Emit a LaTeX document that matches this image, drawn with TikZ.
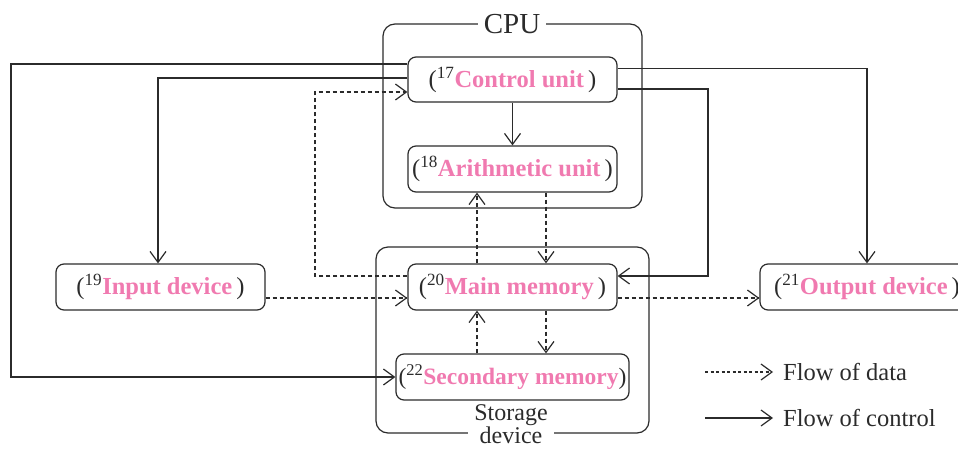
\documentclass[tikz,border=0pt]{standalone}
\usepackage{fontspec}
\setmainfont{Liberation Serif}
\usetikzlibrary{arrows.meta}
\definecolor{pk}{HTML}{F07AB0}
\definecolor{ln}{HTML}{2B2B2B}
\tikzset{
  unitbox/.style={draw=ln, line width=1.2pt, rounded corners=8pt, minimum height=46pt, inner sep=0pt, font=\fontsize{24.5}{28}\selectfont, text=ln},
  groupbox/.style={draw=ln, line width=1.2pt, rounded corners=12pt},
  ctl/.style={draw=ln, line width=1.3pt, -{Straight Barb[length=11pt,width=16pt,line width=1.2pt]}},
  dat/.style={ctl, dash pattern=on 4pt off 3pt},
  legtext/.style={anchor=west, inner sep=0pt, font=\fontsize{24.5}{28}\selectfont, text=ln}
}
\newcommand{\lbl}[2]{(\textsuperscript{#1}\textbf{\color{pk}#2}\,)}
\begin{document}
\begin{tikzpicture}[x=1pt,y=-1pt]
\useasboundingbox (0,0) rectangle (958,450);
% group boxes
\draw[groupbox] (383,24) rectangle (642,208);
\node[fill=white, inner xsep=6pt, inner ysep=0pt, anchor=base, font=\fontsize{29}{32}\selectfont, text=ln] (cpu) at (512,33) {CPU};
\draw[groupbox] (376,247) rectangle (649,433);
\node[fill=white, inner xsep=6pt, inner ysep=1pt, align=center, font=\fontsize{24}{23}\selectfont, text=ln] (stor) at (511,424) {Storage\\device};
% unit nodes
\node[unitbox, minimum width=209pt, minimum height=45pt] (ctrl) at (512.5,79.5) {\lbl{17}{Control unit}};
\node[unitbox, minimum width=209pt] (arith) at (512.5,169) {\lbl{18}{Arithmetic unit}};
\node[unitbox, minimum width=209pt] (main) at (512.5,287) {\lbl{20}{Main memory}};
\node[unitbox, minimum width=233pt, font=\fontsize{23.5}{28}\selectfont] (sec) at (512.5,377) {(\textsuperscript{22}\textbf{\color{pk}Secondary memory})};
\node[unitbox, minimum width=209pt] (inp) at (160.5,287) {\lbl{19}{Input device}};
\node[unitbox, minimum width=214pt] (out) at (867,287) {\lbl{21}{Output device}};
% bend points
\coordinate (b1) at (11,64);
\coordinate (b3) at (315,276);
\coordinate (b11) at (708,89);
% control flow
\draw[ctl] ([yshift=15.5pt]ctrl.west) -- (b1) |- (sec.west);
\draw[ctl] ([yshift=1.5pt]ctrl.west) -| ([xshift=-2.5pt]inp.north);
\draw[ctl] (ctrl.south) -- (arith.north);
\draw[ctl] ([yshift=11pt]ctrl.east) -| (out.north);
\draw[ctl] ([yshift=-9.5pt]ctrl.east) -- (b11) |- ([yshift=11pt]main.east);
% data flow
\draw[dat] ([yshift=11pt]main.west) -- (b3) |- ([yshift=-12.5pt]ctrl.west);
\draw[dat] ([yshift=-11pt]inp.east) -- ([yshift=-11pt]main.west);
\draw[dat] ([xshift=-35.5pt]main.north) -- ([xshift=-35.5pt]arith.south);
\draw[dat] ([xshift=33.5pt]arith.south) -- ([xshift=33.5pt]main.north);
\draw[dat] ([xshift=33.5pt]main.south) -- ([xshift=33.5pt]sec.north);
\draw[dat] ([xshift=-35.5pt]sec.north) -- ([xshift=-35.5pt]main.south);
\draw[dat] ([yshift=-11pt]main.east) -- ([yshift=-11pt]out.west);
% legend
\coordinate (d1) at (705,372);
\coordinate (d2) at (773,372);
\coordinate (c1) at (705,418);
\coordinate (c2) at (773,418);
\draw[dat, dash pattern=on 3pt off 2.5pt] (d1) -- (d2);
\draw[ctl] (c1) -- (c2);
\node[legtext] (ld) at (783,372) {Flow of data};
\node[legtext] (lc) at (783,418) {Flow of control};
\end{tikzpicture}
\end{document}
